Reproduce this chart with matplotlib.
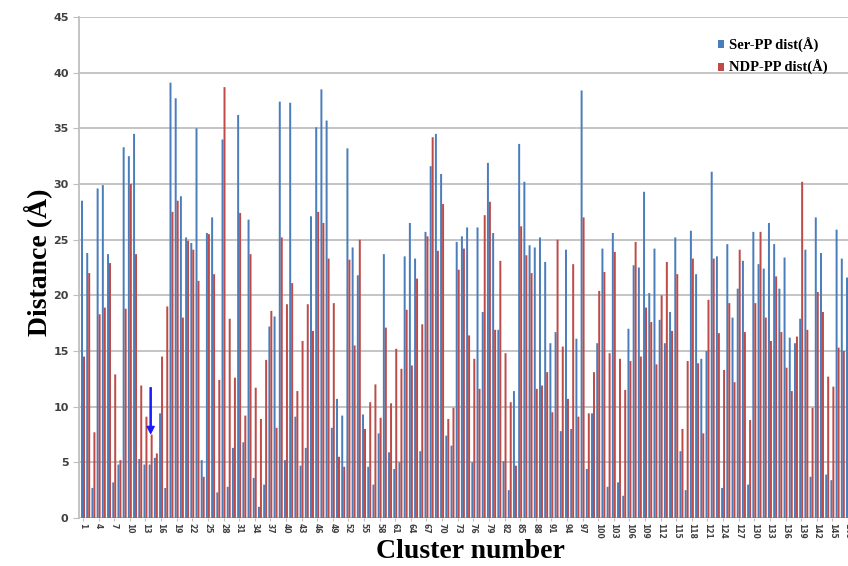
import numpy as np
import matplotlib
matplotlib.use("Agg")
import matplotlib.pyplot as plt

# cluster numbers 1..148 (the last one is cut by the right edge)
clusters = np.arange(1, 149)

ser_pp = [
    28.5, 23.8, 2.7, 29.6, 29.9, 23.7, 3.2, 4.8, 33.3, 32.5,
    34.5, 5.3, 4.8, 4.8, 5.4, 9.4, 2.7, 39.1, 37.7, 28.9,
    25.2, 24.7, 35.0, 5.2, 25.6, 27.0, 2.3, 34.0, 2.8, 6.3,
    36.2, 6.8, 26.8, 3.6, 1.0, 3.0, 17.2, 18.1, 37.4, 5.2,
    37.3, 9.1, 4.7, 6.3, 27.1, 35.1, 38.5, 35.7, 8.1, 10.7,
    9.2, 33.2, 24.3, 21.8, 9.3, 4.6, 3.0, 7.6, 23.7, 5.9,
    4.4, 5.0, 23.5, 26.5, 23.3, 6.0, 25.7, 31.6, 34.5, 30.9,
    7.4, 6.5, 24.8, 25.3, 26.1, 5.0, 26.1, 18.5, 31.9, 25.6,
    16.9, 5.1, 2.5, 11.4, 33.6, 30.2, 24.5, 24.3, 25.2, 23.0,
    15.7, 16.7, 7.8, 24.1, 8.0, 16.1, 38.4, 4.4, 9.4, 15.7,
    24.2, 2.8, 25.6, 3.2, 2.0, 17.0, 22.7, 22.5, 29.3, 20.2,
    24.2, 17.8, 15.7, 18.5, 25.2, 6.0, 2.5, 25.8, 21.9, 14.3,
    15.0, 31.1, 23.5, 2.7, 24.6, 18.0, 20.6, 23.1, 3.0, 25.7,
    22.8, 22.4, 26.5, 24.6, 20.6, 23.4, 16.2, 15.7, 17.9, 24.1,
    3.7, 27.0, 23.8, 3.9, 3.4, 25.9, 23.3, 21.6,
]
ndp_pp = [
    14.5, 22.0, 7.7, 18.3, 18.9, 22.9, 12.9, 5.2, 18.8, 30.0,
    23.7, 11.9, 9.1, 7.5, 5.8, 14.5, 19.0, 27.5, 28.5, 18.0,
    24.9, 24.1, 21.3, 3.7, 25.5, 21.9, 12.4, 38.7, 17.9, 12.6,
    27.4, 9.2, 23.7, 11.7, 8.9, 14.2, 18.6, 8.1, 25.2, 19.2,
    21.1, 11.4, 15.9, 19.2, 16.8, 27.5, 26.5, 23.3, 19.3, 5.5,
    4.6, 23.2, 15.5, 25.0, 8.0, 10.4, 12.0, 9.0, 17.1, 10.3,
    15.2, 13.4, 18.7, 13.7, 21.5, 17.4, 25.3, 34.2, 24.0, 28.2,
    8.9, 9.9, 22.3, 24.2, 16.4, 14.3, 11.6, 27.2, 28.4, 16.9,
    23.1, 14.8, 10.4, 4.7, 26.2, 23.6, 22.0, 11.6, 11.9, 13.1,
    9.5, 25.0, 15.4, 10.7, 22.8, 9.1, 27.0, 9.4, 13.1, 20.4,
    22.1, 14.8, 23.9, 14.3, 11.5, 14.1, 24.8, 14.5, 18.9, 17.6,
    13.8, 20.0, 23.0, 16.8, 21.9, 8.0, 14.1, 23.3, 13.9, 7.6,
    19.6, 23.3, 16.6, 13.3, 19.3, 12.2, 24.1, 16.7, 8.8, 19.3,
    25.7, 18.0, 15.9, 21.7, 16.7, 13.5, 11.4, 16.3, 30.2, 16.9,
    9.9, 20.3, 18.5, 12.7, 11.8, 15.3, 15.0, 15.0,
]
tick_clusters = list(range(1, 149, 3))

BLUE = "#4A7EBB"
RED = "#BE4B48"
GRID = "#BFBFBF"

fig = plt.figure(figsize=(8.48, 5.66), dpi=100)
ax = fig.add_axes([79 / 848, 1 - 518 / 566, 769 / 848, 501 / 566])

w = 0.38
ax.bar(clusters - w / 2, ser_pp, width=w, color=BLUE, label="Ser-PP dist(Å)",
       zorder=3, snap=False)
ax.bar(clusters + w / 2, ndp_pp, width=w, color=RED, label="NDP-PP dist(Å)",
       zorder=3, snap=False)

# arrow marking cluster 14
ax.annotate("", xy=(14, 7.6), xytext=(14, 11.7),
            arrowprops=dict(color="#1a1aff", width=0.8, headwidth=5, headlength=5),
            zorder=4)

ax.set_ylim(0, 45)
ax.set_xlim(0.23, 147.7)
ax.set_yticks(range(0, 46, 5))
ax.set_xticks(tick_clusters)
ax.set_xticklabels([str(t) for t in tick_clusters], rotation=270,
                   fontsize=5.5, color="#404040", fontweight="bold")
ax.tick_params(axis="y", labelsize=8, colors="#404040", length=4, color=GRID)
ax.tick_params(axis="x", length=2, color=GRID, pad=1.5)
for lab in ax.get_yticklabels():
    lab.set_fontweight("bold")

ax.grid(axis="y", color=GRID, linewidth=1.3, zorder=0)
for s in ["top", "right", "bottom"]:
    ax.spines[s].set_visible(False)
ax.spines["left"].set_color(GRID)
ax.spines["left"].set_linewidth(1.3)

fig.text(38 / 848, 1 - 262 / 566, "Distance (Å)", family="Liberation Serif",
         fontsize=20, fontweight="bold", rotation=90, ha="center", va="center")
fig.text(470 / 848, 1 - 551 / 566, "Cluster number", family="Liberation Serif",
         fontsize=20, fontweight="bold", ha="center", va="center")

leg = ax.legend(loc="upper right", bbox_to_anchor=(0.99, 0.985), frameon=False,
                prop=dict(family="Liberation Serif", weight="bold", size=10.5),
                handlelength=0.45, handleheight=0.45, handletextpad=0.3,
                labelspacing=0.5)
leg.set_zorder(5)

fig.savefig("out.png", dpi=100)
